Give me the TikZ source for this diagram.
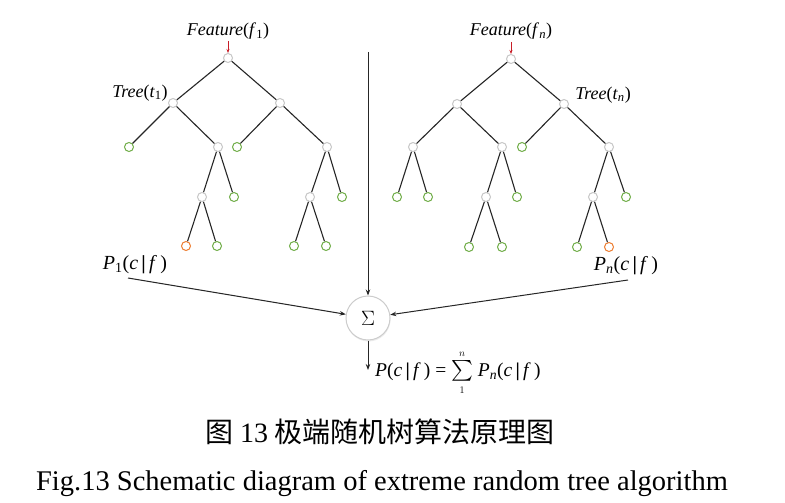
\documentclass[tikz,border=0pt]{standalone}
\usepackage{exscale}
\usepackage{fontspec}
\setmainfont{Liberation Serif}
\newfontfamily\cjk{Noto Sans CJK SC}
\usetikzlibrary{arrows.meta,shadows}
\definecolor{leafgreen}{RGB}{112,173,71}
\definecolor{leaforange}{RGB}{237,125,49}
\definecolor{arrred}{RGB}{200,30,40}
\begin{document}
\begin{tikzpicture}[x=1pt,y=-1pt,
  inode/.style={circle,fill=white,draw=black!22,line width=1pt,minimum size=9pt,inner sep=0pt},
  gleaf/.style={circle,fill=white,draw=leafgreen,line width=1pt,minimum size=9pt,inner sep=0pt},
  oleaf/.style={circle,fill=white,draw=leaforange,line width=1pt,minimum size=9pt,inner sep=0pt},
  edge/.style={draw=black!85,line width=1.1pt},
  arr/.style={draw=black!85,line width=1pt,-{Stealth[length=6pt,width=4.5pt]}},
  lbl/.style={font=\fontsize{18}{20}\selectfont,inner sep=0pt},
  plbl/.style={font=\fontsize{20}{22}\selectfont,inner sep=0pt}]
\useasboundingbox (0,0) rectangle (785,503);
% ---------- tree 1 ----------
\node[inode] (a0) at (228,58) {};
\node[inode] (a1) at (173,103) {};
\node[inode] (a2) at (280,103) {};
\node[gleaf] (a3) at (129,147) {};
\node[inode] (a4) at (218,147) {};
\node[gleaf] (a5) at (237,147) {};
\node[inode] (a6) at (327,147) {};
\node[inode] (a7) at (202,197) {};
\node[gleaf] (a8) at (234,197) {};
\node[inode] (a9) at (310,197) {};
\node[gleaf] (a10) at (342,197) {};
\node[oleaf] (a11) at (186,246) {};
\node[gleaf] (a12) at (217,246) {};
\node[gleaf] (a13) at (294,246) {};
\node[gleaf] (a14) at (326,246) {};
\foreach \p/\c in {a0/a1,a0/a2,a1/a3,a1/a4,a2/a5,a2/a6,a4/a7,a4/a8,a6/a9,a6/a10,a7/a11,a7/a12,a9/a13,a9/a14}
  \draw[edge] (\p) -- (\c);
\node[lbl] (f1) at (228,31) {\textit{Feature}(\textit{f}\textsubscript{1})};
\node[lbl] (t1) at (140,93) {\textit{Tree}(\textit{t}\textsubscript{1})};
\coordinate (r1) at (228,41);
\draw[arrred,line width=0.9pt,-{Stealth[length=4pt,width=3pt]}] (r1) -- (a0.north);
% ---------- tree n ----------
\node[inode] (b0) at (511,59) {};
\node[inode] (b1) at (457,104) {};
\node[inode] (b2) at (564,104) {};
\node[inode] (b3) at (413,147) {};
\node[inode] (b4) at (502,147) {};
\node[gleaf] (b5) at (522,147) {};
\node[inode] (b6) at (609,147) {};
\node[gleaf] (b7) at (397,197) {};
\node[gleaf] (b8) at (428,197) {};
\node[inode] (b9) at (486,197) {};
\node[gleaf] (b10) at (517,197) {};
\node[inode] (b11) at (593,197) {};
\node[gleaf] (b12) at (626,197) {};
\node[gleaf] (b13) at (469,247) {};
\node[gleaf] (b14) at (502,247) {};
\node[gleaf] (b15) at (577,247) {};
\node[oleaf] (b16) at (609,247) {};
\foreach \p/\c in {b0/b1,b0/b2,b1/b3,b1/b4,b2/b5,b2/b6,b3/b7,b3/b8,b4/b9,b4/b10,b6/b11,b6/b12,b9/b13,b9/b14,b11/b15,b11/b16}
  \draw[edge] (\p) -- (\c);
\node[lbl] (fn) at (511,31) {\textit{Feature}(\textit{f}\textsubscript{\textit{n}})};
\node[lbl] (tn) at (603,95) {\textit{Tree}(\textit{t}\textsubscript{\textit{n}})};
\coordinate (r2) at (511,42);
\draw[arrred,line width=0.9pt,-{Stealth[length=4pt,width=3pt]}] (r2) -- (b0.north);
% ---------- aggregation ----------
\node[circle,fill=white,draw=black!20,line width=1pt,minimum size=44pt,inner sep=0pt,
      drop shadow={shadow xshift=0.5pt,shadow yshift=-1.5pt,fill=black!15}] (sig) at (368,318)
      {\fontsize{21}{23}\selectfont$\Sigma$};
\coordinate (top) at (368,52);
\draw[arr] (top) -- (sig);
\node[plbl] (p1) at (135,265) {\textit{P}\textsubscript{1}(\textit{c}\,\textbf{|}\,\textit{f}\,)};
\node[plbl] (pn) at (626,266) {\textit{P}\textsubscript{\textit{n}}(\textit{c}\,\textbf{|}\,\textit{f}\,)};
\coordinate (c1) at (128,278);
\coordinate (c2) at (628,280);
\draw[arr] (c1) -- (sig);
\draw[arr] (c2) -- (sig);
\coordinate (bot) at (368,370);
\draw[arr] (sig) -- (bot);
\node[font=\fontsize{19.5}{21}\selectfont,inner sep=0pt,anchor=base west] (form) at (375,376)
  {\textit{P}(\textit{c}\,\textbf{|}\,\textit{f}\,) = $\sum\limits_{\scriptscriptstyle 1}^{\scriptscriptstyle n}$ \textit{P}\textsubscript{\textit{n}}(\textit{c}\,\textbf{|}\,\textit{f}\,)};
% ---------- captions ----------
\node[inner sep=0pt] (cap1) at (380,432) {\cjk\fontsize{28}{30}\selectfont 图 {\rmfamily 13} 极端随机树算法原理图};
\node[inner sep=0pt] (cap2) at (382,484) {\fontsize{28.5}{30}\selectfont Fig.13 Schematic diagram of extreme random tree algorithm};
\end{tikzpicture}
\end{document}
